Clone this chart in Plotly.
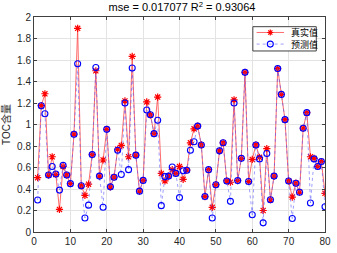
import plotly.graph_objects as go

x = list(range(1, 81))
true_vals = [0.505, 1.175, 1.286, 0.53, 0.70, 0.535, 0.21, 0.61, 0.53, 0.45,
             0.91, 1.895, 0.43, 0.34, 0.445, 0.72, 1.50, 0.52, 0.67, 0.955,
             0.42, 0.51, 0.77, 0.805, 1.22, 0.70, 1.634, 0.715, 0.38, 0.48,
             1.21, 1.09, 0.915, 1.255, 0.545, 0.475, 0.52, 0.58, 0.545, 0.61,
             0.49, 0.575, 0.83, 0.96, 0.985, 0.81, 0.33, 0.58, 0.23, 0.44,
             0.755, 0.83, 0.475, 0.463, 1.23, 0.478, 0.685, 1.485, 0.47, 0.675,
             0.81, 0.695, 0.20, 0.775, 0.30, 0.52, 1.52, 1.28, 1.045, 0.475,
             0.325, 0.454, 0.37, 0.965, 1.11, 0.70, 0.685, 0.61, 0.655, 0.36]
pred_vals = [0.297, 1.175, 1.10, 0.53, 0.61, 0.54, 0.39, 0.62, 0.53, 0.45,
             0.91, 1.565, 0.43, 0.13, 0.25, 0.72, 1.53, 0.52, 0.23, 0.955,
             0.42, 0.51, 0.76, 0.535, 1.20, 0.58, 1.526, 0.715, 0.38, 0.48,
             1.135, 1.09, 0.915, 1.04, 0.245, 0.515, 0.52, 0.605, 0.545, 0.32,
             0.57, 0.575, 0.76, 0.84, 0.985, 0.81, 0.33, 0.58, 0.13, 0.44,
             0.755, 0.83, 0.475, 0.285, 1.20, 0.478, 0.685, 1.485, 0.47, 0.16,
             0.81, 0.68, 0.085, 0.73, 0.30, 0.52, 1.52, 1.28, 1.045, 0.475,
             0.125, 0.454, 0.37, 0.965, 1.11, 0.27, 0.68, 0.61, 0.655, 0.235]

series_names = ["真实值", "预测值"]
x_ticks = [0, 10, 20, 30, 40, 50, 60, 70, 80]
y_ticks = [0, 0.2, 0.4, 0.6, 0.8, 1, 1.2, 1.4, 1.6, 1.8, 2]
y_tick_text = ["0", "0.2", "0.4", "0.6", "0.8", "1", "1.2", "1.4", "1.6", "1.8", "2"]

RED_LINE = "rgba(255,70,70,0.8)"
BLUE_LINE = "rgba(80,80,255,0.55)"

fig = go.Figure()
fig.add_trace(go.Scatter(
    x=x, y=true_vals, name=series_names[0], mode="lines+markers",
    line=dict(color=RED_LINE, width=1),
    marker=dict(symbol="asterisk-open", size=6, color="#ff0000",
                line=dict(color="#ff0000", width=1.2)),
))
fig.add_trace(go.Scatter(
    x=x, y=pred_vals, name=series_names[1], mode="lines+markers",
    line=dict(color=BLUE_LINE, width=1, dash="dot"),
    marker=dict(symbol="circle-open", size=6, color="#0000ff",
                line=dict(color="#0000ff", width=1.1)),
))

axis_common = dict(
    showgrid=True, gridcolor="#e3e3e3", gridwidth=1,
    showline=True, linecolor="#404040", linewidth=1, mirror="ticks",
    ticks="inside", ticklen=3, tickcolor="#404040",
    tickfont=dict(family="Liberation Sans, Arial", size=10, color="#262626"),
    zeroline=False,
)

# Manual MATLAB-style legend (box, sample lines, sample markers, labels)
lx0, lx1, ly0, ly1 = 0.752, 0.970, 0.842, 0.955
rows_y = [0.928, 0.874]
seg_x0, seg_x1, mk_x, txt_x = 0.765, 0.859, 0.812, 0.876
shapes = [dict(type="rect", xref="paper", yref="paper", x0=lx0, x1=lx1, y0=ly0, y1=ly1,
               fillcolor="white", line=dict(color="#404040", width=1), layer="above")]
shapes.append(dict(type="line", xref="paper", yref="paper", x0=seg_x0, x1=seg_x1,
                   y0=rows_y[0], y1=rows_y[0], line=dict(color=RED_LINE, width=1), layer="above"))
shapes.append(dict(type="line", xref="paper", yref="paper", x0=seg_x0, x1=seg_x1,
                   y0=rows_y[1], y1=rows_y[1], line=dict(color=BLUE_LINE, width=1, dash="dot"), layer="above"))
shapes.append(dict(type="path", xref="paper", yref="paper", xsizemode="pixel", ysizemode="pixel",
                   xanchor=mk_x, yanchor=rows_y[0],
                   path="M-3,0 L3,0 M0,-3 L0,3 M-2.1,-2.1 L2.1,2.1 M-2.1,2.1 L2.1,-2.1",
                   line=dict(color="#ff0000", width=1.2), layer="above"))
shapes.append(dict(type="circle", xref="paper", yref="paper", xsizemode="pixel", ysizemode="pixel",
                   xanchor=mk_x, yanchor=rows_y[1], x0=-3, x1=3, y0=-3, y1=3,
                   line=dict(color="#0000ff", width=1.1), layer="above"))
annotations = [dict(xref="paper", yref="paper", x=txt_x, y=ry, text=name, showarrow=False,
                    xanchor="left", yanchor="middle",
                    font=dict(family="Noto Sans CJK SC", size=9, color="#000000"))
               for ry, name in zip(rows_y, series_names)]

fig.update_layout(
    width=337, height=253,
    margin=dict(l=33, r=6, t=17, b=14),
    paper_bgcolor="white", plot_bgcolor="white",
    title=dict(text="mse = 0.017077 R<sup>2</sup> = 0.93064",
               x=0.54, xanchor="center", y=0.985, yanchor="top",
               font=dict(family="Liberation Sans, Arial", size=11, color="#000000")),
    xaxis=dict(range=[0, 80], tickvals=x_ticks, **axis_common),
    yaxis=dict(range=[0, 2], tickvals=y_ticks, ticktext=y_tick_text,
               title=dict(text="TOC含量", standoff=4,
                          font=dict(family="Liberation Sans, Noto Sans CJK SC", size=10, color="#262626")),
               **axis_common),
    showlegend=False,
    shapes=shapes,
    annotations=annotations,
)

fig.write_html("out.html", config={"displayModeBar": False},
               post_script="document.body.style.margin='0';document.body.style.overflow='hidden';")
